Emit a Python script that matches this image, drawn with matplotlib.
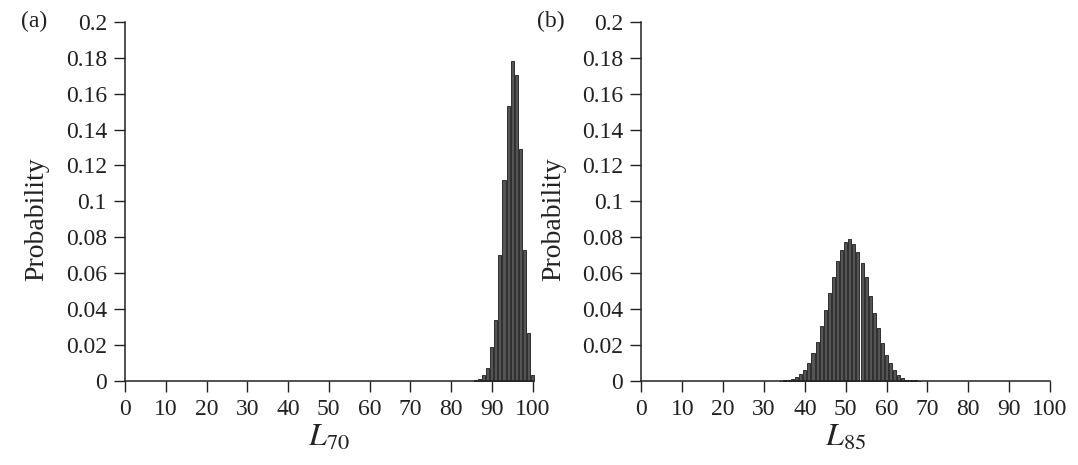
import matplotlib.pyplot as plt
import numpy as np

plt.rcParams['font.family'] = ['Liberation Serif', 'DejaVu Serif']
plt.rcParams['mathtext.fontset'] = 'stix'

# panel (a): distribution of L70
l70_x = [86, 87, 88, 89, 90, 91, 92, 93, 94, 95, 96, 97, 98, 99, 100]
l70_p = [0.0005, 0.0012, 0.003, 0.007, 0.019, 0.034, 0.070, 0.112, 0.153,
         0.178, 0.1705, 0.129, 0.073, 0.0266, 0.003]

# panel (b): distribution of L85
l85_x = list(range(34, 69))
l85_p = [0.0001, 0.0002, 0.0005, 0.0011, 0.0021, 0.0039, 0.0061, 0.0102,
         0.0154, 0.0219, 0.0303, 0.0395, 0.0488, 0.058, 0.0665, 0.073,
         0.0776, 0.0789, 0.0762, 0.072, 0.0655, 0.058, 0.047, 0.0377,
         0.0293, 0.021, 0.0145, 0.0099, 0.0061, 0.0033, 0.0015, 0.0006,
         0.0003, 0.0002, 0.0001]

y_ticks = [0, 0.02, 0.04, 0.06, 0.08, 0.1, 0.12, 0.14, 0.16, 0.18, 0.2]
x_ticks = [0, 10, 20, 30, 40, 50, 60, 70, 80, 90, 100]

fig = plt.figure(figsize=(10.78, 4.65), dpi=100)
ax_a = fig.add_axes([0.116, 0.181, 0.378, 0.772])
ax_b = fig.add_axes([0.595, 0.181, 0.379, 0.772])


def style_axis(ax, xs, ps, xlabel, tag):
    ax.bar(xs, ps, width=0.75, color='#555555', edgecolor='#1a1a1a',
           linewidth=0.6, clip_on=False)
    ax.set_xlim(0, 100)
    ax.set_ylim(0, 0.2)
    ax.set_xticks(x_ticks)
    ax.set_yticks(y_ticks)
    ax.set_yticklabels(['{:g}'.format(v) for v in y_ticks])
    ax.tick_params(direction='out', length=8, width=1, labelsize=17, pad=5,
                   color='#222222', labelcolor='#222222')
    for side in ('top', 'right'):
        ax.spines[side].set_visible(False)
    for side in ('left', 'bottom'):
        ax.spines[side].set_linewidth(1.1)
        ax.spines[side].set_color('#222222')
    ax.set_ylabel('Probability', fontsize=20, color='#222222')
    ax.yaxis.set_label_coords(-0.185, 0.45)
    ax.set_xlabel(xlabel, fontsize=23, color='#222222', labelpad=3)
    ax.text(-0.255, 1.0, tag, transform=ax.transAxes, fontsize=17,
            color='#222222', va='center', ha='left')


style_axis(ax_a, l70_x, l70_p, r'$L_{70}$', '(a)')
style_axis(ax_b, l85_x, l85_p, r'$L_{85}$', '(b)')

fig.savefig('out.png', dpi=100, facecolor='white')
